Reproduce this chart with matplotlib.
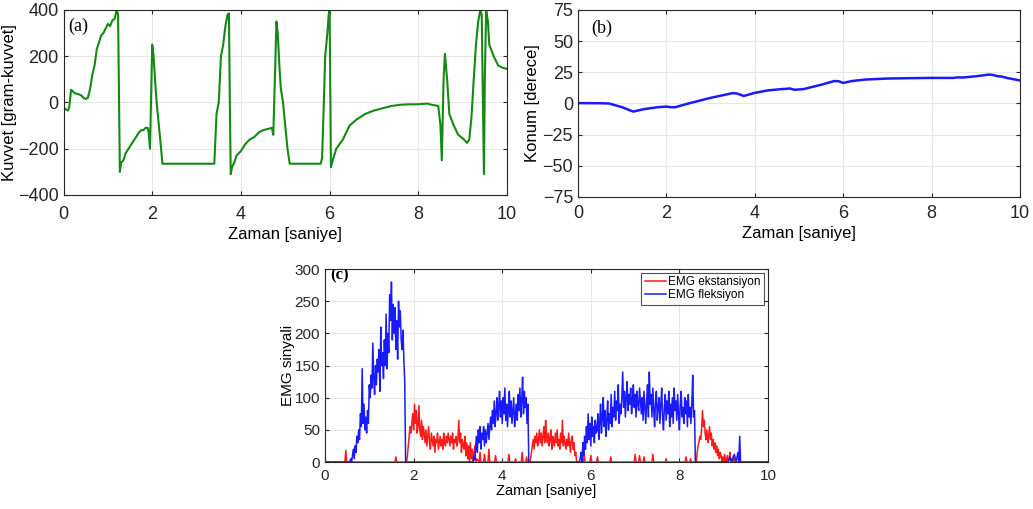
import numpy as np
import matplotlib
matplotlib.use("Agg")
import matplotlib.pyplot as plt

plt.rcParams['font.family'] = ['Liberation Sans', 'DejaVu Sans']

# --- (a) force ---
force_t = [0, 0.05, 0.1, 0.13, 0.17, 0.2, 0.25, 0.35, 0.4, 0.45, 0.5, 0.55, 0.6, 0.65,
           0.7, 0.75, 0.8, 0.85, 0.9, 0.95, 1.0, 1.05, 1.1, 1.15, 1.2, 1.23, 1.27, 1.3,
           1.35, 1.4, 1.5, 1.6, 1.7, 1.75, 1.8, 1.85, 1.9, 1.92, 1.95, 2.0, 2.03, 2.07,
           2.1, 2.15, 2.2, 2.23, 3.4, 3.45, 3.5, 3.55, 3.6, 3.65, 3.7, 3.73, 3.75, 3.77,
           3.8, 3.85, 3.9, 4.0, 4.1, 4.2, 4.3, 4.4, 4.5, 4.6, 4.7, 4.73, 4.78, 4.8, 4.83,
           4.87, 4.9, 4.95, 5.0, 5.05, 5.1, 5.8, 5.83, 5.87, 5.9, 5.95, 5.98, 6.0, 6.03,
           6.07, 6.15, 6.3, 6.45, 6.6, 6.8, 7.0, 7.2, 7.4, 7.6, 7.8, 8.0, 8.2, 8.3, 8.45,
           8.5, 8.53, 8.57, 8.6, 8.65, 8.7, 8.8, 8.9, 9.0, 9.1, 9.15, 9.2, 9.25, 9.3, 9.35,
           9.4, 9.43, 9.45, 9.48, 9.5, 9.53, 9.57, 9.6, 9.7, 9.8, 9.9, 10.0]
force_v = [-20, -30, -35, -20, 55, 50, 40, 35, 30, 20, 15, 20, 60, 120,
           160, 230, 260, 290, 300, 320, 340, 330, 355, 360, 400, 380, -300, -260,
           -250, -220, -190, -160, -130, -120, -120, -110, -110, -130, -200, 250, 200, 80,
           0, -100, -200, -265, -265, -50, 0, 200, 250, 330, 380, 385, 0, -310,
           -280, -260, -230, -210, -180, -160, -150, -130, -120, -115, -110, -140, 200, 350, 300,
           150, 60, 0, -100, -200, -265, -265, -240, 0, 200, 300, 380, 400, -280,
           -250, -200, -160, -100, -75, -50, -35, -25, -15, -10, -8, -8, -5, -10, -15,
           -100, -250, 100, 210, 100, -50, -100, -140, -155, -175, -160, -60, 100, 250, 350,
           400, 380, 100, -310, 100, 400, 350, 250, 200, 160, 150, 145]

# --- (b) position ---
pos_t = [0, 0.5, 0.7, 1.0, 1.25, 1.5, 1.8, 2.0, 2.1, 2.2, 2.5, 3.0, 3.5, 3.6, 3.75,
         4.0, 4.3, 4.6, 4.8, 4.9, 5.1, 5.5, 5.8, 5.9, 6.0, 6.2, 6.5, 7.0, 7.5, 8.0,
         8.5, 8.6, 8.7, 9.0, 9.3, 9.4, 9.5, 9.6, 9.7, 10.0]
pos_v = [0.3, 0.2, 0, -3, -6.5, -4.5, -3, -2.5, -3, -3, 0, 4.5, 8.3, 8, 6,
         8.5, 10.5, 11.5, 12, 11, 11.5, 15, 18, 17.8, 16.5, 18, 19.2, 20, 20.3, 20.5,
         20.5, 21, 20.8, 21.8, 23.2, 22.8, 21.8, 21.5, 20.5, 18.5]

# --- (c) EMG, sampled every DT seconds inside the active bursts ---
DT = 0.02
flex1_start = 0.56
flex1 = [0, 5, 0, 10, 20, 5, 25, 15, 40, 30,
         50, 35, 75, 55, 145, 60, 90, 50, 70, 45,
         80, 60, 120, 100, 135, 115, 185, 130, 105, 150,
         120, 160, 140, 175, 110, 210, 150, 170, 130, 190,
         150, 230, 145, 200, 170, 260, 220, 280, 190, 245,
         200, 240, 175, 220, 160, 250, 210, 235, 190, 175,
         205, 160, 125, 0]
flex2_start = 3.34
flex2 = [0, 8, 3, 25, 40, 15, 50, 30, 55, 20,
         45, 35, 55, 25, 50, 30, 45, 60, 35, 55,
         70, 50, 80, 60, 95, 55, 75, 100, 65, 85,
         110, 70, 95, 60, 100, 75, 115, 65, 90, 55,
         85, 110, 70, 95, 60, 80, 100, 55, 75, 90,
         65, 105, 80, 115, 70, 95, 132, 75, 110, 85,
         100, 60, 90, 0]
flex3_start = 5.74
flex3 = [0, 5, 15, 0, 30, 10, 40, 20, 55, 30,
         75, 35, 60, 25, 70, 40, 55, 30, 65, 45,
         50, 75, 35, 60, 90, 45, 70, 100, 55, 80,
         40, 65, 95, 50, 75, 60, 105, 55, 85, 70,
         110, 65, 95, 80, 120, 60, 90, 75, 100, 140,
         85, 110, 70, 100, 125, 80, 105, 90, 115, 75,
         95, 120, 85, 105, 70, 110, 90, 80, 115, 95,
         75, 100, 65, 110, 85, 60, 95, 120, 70, 140,
         90, 105, 70, 115, 80, 55, 95, 110, 65, 85,
         100, 60, 90, 115, 70, 50, 85, 105, 65, 95,
         75, 110, 55, 90, 70, 100, 60, 115, 80, 95,
         65, 105, 75, 50, 90, 110, 70, 85, 60, 100,
         75, 95, 55, 105, 70, 85, 60, 90, 135, 70,
         80, 0]
flex_spike_t = [9.10, 9.14, 9.18, 9.24, 9.28, 9.32, 9.34, 9.36, 9.38]
flex_spike_v = [0, 8, 0, 12, 0, 15, 0, 40, 0]

ext_spike1_t = [0.45, 0.47, 0.49, 1.58, 1.60, 1.62]
ext_spike1_v = [0, 18, 0, 0, 8, 0]
ext2_start = 1.84
ext2 = [0, 10, 25, 40, 55, 45, 60, 75, 50, 90,
        60, 80, 45, 55, 88, 50, 40, 65, 35, 55,
        45, 30, 50, 25, 40, 55, 30, 20, 45, 35,
        25, 40, 15, 35, 30, 45, 20, 30, 40, 25,
        35, 20, 45, 30, 25, 40, 30, 45, 35, 25,
        40, 30, 45, 20, 35, 30, 40, 25, 35, 65,
        30, 45, 15, 35, 25, 20, 40, 10, 30, 5,
        25, 0, 30, 5, 20, 0, 10, 25, 0, 5]
ext_spike2_t = [3.48, 3.50, 3.52, 3.58, 3.60, 3.62, 3.68, 3.70, 3.72, 3.83, 3.85, 3.87,
                4.13, 4.15, 4.17, 4.28, 4.30, 4.32, 4.43, 4.45, 4.47, 4.53, 4.55, 4.57]
ext_spike2_v = [0, 15, 0, 0, 12, 0, 0, 20, 0, 0, 10, 0,
                0, 12, 0, 0, 5, 0, 0, 15, 0, 0, 8, 0]
ext3_start = 4.62
ext3 = [0, 5, 15, 25, 35, 20, 40, 30, 45, 25,
        35, 50, 30, 45, 25, 40, 55, 30, 65, 40,
        30, 45, 25, 35, 50, 20, 40, 30, 25, 45,
        30, 50, 25, 35, 20, 45, 30, 65, 25, 40,
        30, 20, 35, 25, 45, 30, 15, 35, 40, 20,
        30, 10, 15, 0, 0]
ext_spike3_t = [5.83, 5.85, 5.87, 5.98, 6.00, 6.02, 6.13, 6.15, 6.17, 6.43, 6.45, 6.47,
                6.98, 7.00, 7.02, 7.08, 7.10, 7.12, 7.18, 7.20, 7.22, 7.38, 7.40, 7.42,
                7.68, 7.70, 7.72, 8.13, 8.15, 8.17, 8.23, 8.25, 8.27]
ext_spike3_v = [0, 12, 0, 0, 10, 0, 0, 8, 0, 0, 8, 0,
                0, 12, 0, 0, 10, 0, 0, 8, 0, 0, 12, 0,
                0, 5, 0, 0, 8, 0, 0, 5, 0]
ext4_start = 8.38
ext4 = [0, 15, 25, 30, 40, 35, 50, 80, 55, 65,
        45, 35, 50, 30, 40, 55, 35, 45, 25, 35,
        20, 30, 15, 25, 10, 20, 5, 15, 10, 0,
        8, 0, 12, 3, 0, 10, 0, 5, 15, 0,
        5, 0, 10, 0, 5, 0, 0, 0]


def segment(start, vals):
    t = start + DT * np.arange(len(vals))
    return list(t), list(vals)


def build(parts):
    # parts: list of (times, values); pad with zeros at 0 and 10
    tt, vv = [0.0], [0.0]
    for t, v in sorted(parts, key=lambda p: p[0][0]):
        tt += list(t)
        vv += list(v)
    tt.append(10.0)
    vv.append(0.0)
    return np.array(tt), np.array(vv)


flex_t, flex_v = build([segment(flex1_start, flex1), segment(flex2_start, flex2),
                        segment(flex3_start, flex3), (flex_spike_t, flex_spike_v)])
ext_t, ext_v = build([(ext_spike1_t, ext_spike1_v), segment(ext2_start, ext2),
                      (ext_spike2_t, ext_spike2_v), segment(ext3_start, ext3),
                      (ext_spike3_t, ext_spike3_v), segment(ext4_start, ext4)])


def style(ax, fs, pad):
    ax.grid(True, color='#e6e6e6', linewidth=0.8)
    ax.set_axisbelow(True)
    for s in ax.spines.values():
        s.set_color('#262626')
        s.set_linewidth(0.8)
    ax.tick_params(direction='in', top=True, right=True, length=3,
                   labelsize=fs, colors='#262626', labelcolor='#262626')
    ax.tick_params(axis='x', pad=pad)


fig = plt.figure(figsize=(10.33, 5.09), dpi=100)

# (a)
ax1 = fig.add_axes([0.0615, 0.617, 0.4293, 0.3635])
ax1.plot(force_t, force_v, color='#138a13', linewidth=1.5)
ax1.set_xlim(0, 10)
ax1.set_ylim(-400, 400)
ax1.set_xticks(np.arange(0, 11, 2))
ax1.set_yticks(np.arange(-400, 401, 200))
style(ax1, 13, 8)
ax1.set_xlabel('Zaman [saniye]', fontsize=12, labelpad=3)
ax1.set_ylabel('Kuvvet [gram-kuvvet]', fontsize=12, labelpad=1)
ax1.text(0.1, 330, '(a)', fontsize=13, family='Liberation Serif', va='center')

# (b)
ax2 = fig.add_axes([0.5595, 0.613, 0.4279, 0.3674])
ax2.plot(pos_t, pos_v, color='#1a1aff', linewidth=1.8)
ax2.set_xlim(0, 10)
ax2.set_ylim(-75, 75)
ax2.set_xticks(np.arange(0, 11, 2))
ax2.set_yticks(np.arange(-75, 76, 25))
style(ax2, 13, 6)
ax2.set_xlabel('Zaman [saniye]', fontsize=12, labelpad=3)
ax2.set_ylabel('Konum [derece]', fontsize=12, labelpad=2)
ax2.text(0.3, 60, '(b)', fontsize=13, family='Liberation Serif', va='center')

# (c)
ax3 = fig.add_axes([0.3146, 0.0923, 0.4289, 0.379])
ax3.plot(ext_t, ext_v, color='#ff1a1a', linewidth=1.1, label='EMG ekstansiyon')
ax3.plot(flex_t, flex_v, color='#1a1aff', linewidth=1.1, label='EMG fleksiyon')
ax3.set_xlim(0, 10)
ax3.set_ylim(0, 300)
ax3.set_xticks(np.arange(0, 11, 2))
ax3.set_yticks(np.arange(0, 301, 50))
style(ax3, 11, 5)
ax3.set_xlabel('Zaman [saniye]', fontsize=10.5, labelpad=1)
ax3.set_ylabel('EMG sinyali', fontsize=11, labelpad=0)
ax3.text(0.12, 290, '(c)', fontsize=12, family='Liberation Serif',
         fontweight='bold', va='center', clip_on=True)
leg = ax3.legend(loc='upper right', fontsize=8.5, frameon=True, fancybox=False,
                 borderpad=0.3, handlelength=1.8, handletextpad=0.2,
                 labelspacing=0.1, borderaxespad=0.3)
leg.get_frame().set_edgecolor('#262626')
leg.get_frame().set_linewidth(0.8)

fig.savefig('out.png', dpi=100)
